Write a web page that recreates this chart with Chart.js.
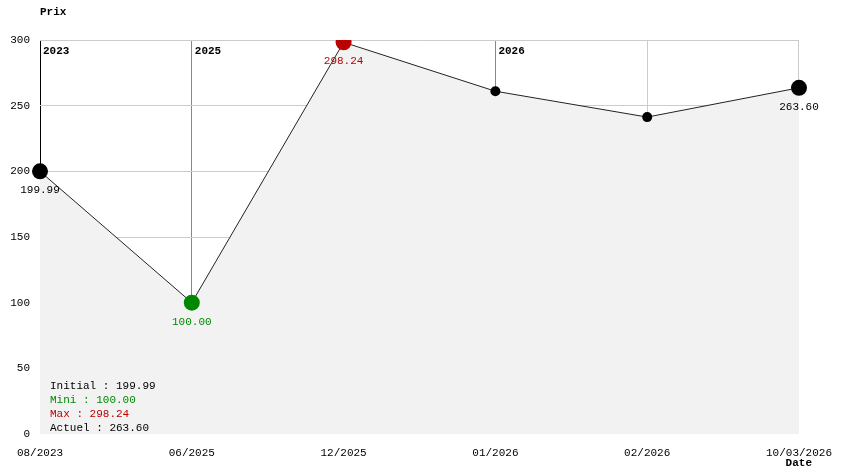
<!DOCTYPE html>
<html><head><meta charset="utf-8">
<script src="https://cdn.jsdelivr.net/npm/chart.js@4"></script>
<style>html,body{margin:0;padding:0;background:#fff}#w{width:844px;height:474px}</style>
</head><body><div id="w"><canvas id="c"></canvas></div>
<script>
const categories = ["08/2023","06/2025","12/2025","01/2026","02/2026","10/03/2026"];
const prices = [199.99, 100.00, 298.24, 261.0, 241.3, 263.60];
const yTicks = [0,50,100,150,200,250,300];
const yearMarks = [[0,"2023"],[1,"2025"],[3,"2026"]];
const pointColors = ["#000","#008800","#bb0000","#000","#000","#000"];
const pointRadii = [8,8,8,5,5,8];
const labelIdx = [0,1,2,5];
const summary = [["Initial : 199.99","#000"],["Mini : 100.00","#008800"],["Max : 298.24","#bb0000"],["Actuel : 263.60","#000"]];
const FONT = "Liberation Mono, DejaVu Sans Mono, monospace";

const overlay = {
  id:'overlay',
  afterDatasetsDraw(chart){
    const ctx=chart.ctx, xs=chart.scales.x, ys=chart.scales.y, a=chart.chartArea;
    const meta=chart.getDatasetMeta(0);
    ctx.save();
    ctx.font="bold 11px "+FONT; ctx.fillStyle="#000"; ctx.textBaseline="middle";
    yearMarks.forEach(([i,t])=>{ctx.textAlign="left";ctx.fillText(t, xs.getPixelForValue(i)+3, a.top+11);});
    ctx.textAlign="left"; ctx.fillText("Prix", a.left, 12);
    ctx.textAlign="right"; ctx.fillText("Date", 812, 463);
    ctx.font="11px "+FONT; ctx.textAlign="center";
    labelIdx.forEach(i=>{const p=meta.data[i]; ctx.fillStyle=pointColors[i]==="#000"?"#000":pointColors[i]; ctx.fillText(prices[i].toFixed(2), p.x, p.y+19);});
    ctx.textAlign="left";
    summary.forEach(([t,c],k)=>{ctx.fillStyle=c; ctx.fillText(t, 50, 386+k*14);});
    ctx.restore();
  }
};

new Chart(document.getElementById('c'),{
  type:'line',
  data:{labels:categories,datasets:[{data:prices,borderColor:"#222",borderWidth:1,fill:'origin',backgroundColor:"#f2f2f2",
    pointBackgroundColor:pointColors,pointBorderColor:pointColors,pointRadius:pointRadii,pointBorderWidth:0,tension:0}]},
  options:{responsive:true,maintainAspectRatio:false,animation:false,
    layout:{padding:{top:40,right:40,left:0,bottom:0}},
    plugins:{legend:{display:false},tooltip:{enabled:false}},
    scales:{
      x:{type:'category',offset:false,
        afterFit(s){s.height=40;},
        border:{display:false},
        grid:{drawTicks:false,color:c=>c.index===0?"#000":(yearMarks.some(m=>m[0]===c.index)?"#888":"#ccc"),lineWidth:1},
        ticks:{font:{family:FONT,size:11},color:"#000",padding:12,maxRotation:0,autoSkip:false}},
      y:{min:0,max:300,
        afterFit(s){s.width=40;},
        afterBuildTicks(s){s.ticks=yTicks.map(v=>({value:v}));},
        border:{display:false},
        grid:{drawTicks:false,color:c=>c.tick&&c.tick.value===0?"rgba(0,0,0,0)":"#ccc"},
        ticks:{font:{family:FONT,size:11},color:"#000",padding:10}}
    }},
  plugins:[overlay]
});
</script></body></html>
